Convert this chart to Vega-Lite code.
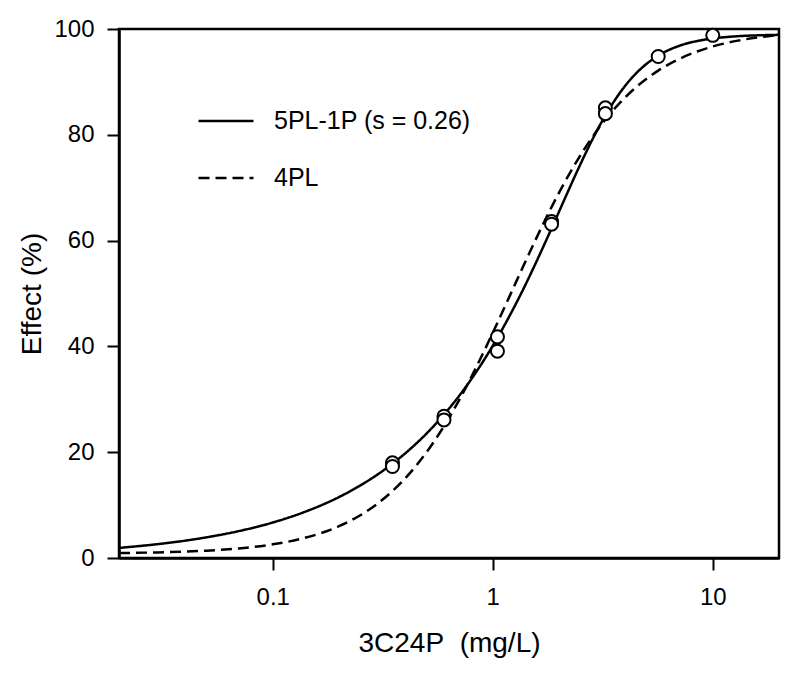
{
  "$schema": "https://vega.github.io/schema/vega-lite/v6.json",
  "autosize": {"type": "none"},
  "width": 660,
  "height": 529,
  "padding": {"left": 119, "top": 29, "right": 21, "bottom": 123},
  "background": "white",
  "datasets": {
    "curves": [
      {"model": "5PL-1P (s = 0.26)", "x": 0.02, "y": 1.91},
      {"model": "5PL-1P (s = 0.26)", "x": 0.03, "y": 2.62},
      {"model": "5PL-1P (s = 0.26)", "x": 0.04, "y": 3.28},
      {"model": "5PL-1P (s = 0.26)", "x": 0.05, "y": 3.91},
      {"model": "5PL-1P (s = 0.26)", "x": 0.07, "y": 5.08},
      {"model": "5PL-1P (s = 0.26)", "x": 0.1, "y": 6.71},
      {"model": "5PL-1P (s = 0.26)", "x": 0.14, "y": 8.73},
      {"model": "5PL-1P (s = 0.26)", "x": 0.2, "y": 11.52},
      {"model": "5PL-1P (s = 0.26)", "x": 0.25, "y": 13.72},
      {"model": "5PL-1P (s = 0.26)", "x": 0.3, "y": 15.81},
      {"model": "5PL-1P (s = 0.26)", "x": 0.35, "y": 17.83},
      {"model": "5PL-1P (s = 0.26)", "x": 0.42, "y": 20.55},
      {"model": "5PL-1P (s = 0.26)", "x": 0.5, "y": 23.53},
      {"model": "5PL-1P (s = 0.26)", "x": 0.6, "y": 27.12},
      {"model": "5PL-1P (s = 0.26)", "x": 0.7, "y": 30.54},
      {"model": "5PL-1P (s = 0.26)", "x": 0.85, "y": 35.46},
      {"model": "5PL-1P (s = 0.26)", "x": 1.0, "y": 40.13},
      {"model": "5PL-1P (s = 0.26)", "x": 1.2, "y": 45.99},
      {"model": "5PL-1P (s = 0.26)", "x": 1.4, "y": 51.45},
      {"model": "5PL-1P (s = 0.26)", "x": 1.6, "y": 56.53},
      {"model": "5PL-1P (s = 0.26)", "x": 1.85, "y": 62.3},
      {"model": "5PL-1P (s = 0.26)", "x": 2.1, "y": 67.45},
      {"model": "5PL-1P (s = 0.26)", "x": 2.4, "y": 72.81},
      {"model": "5PL-1P (s = 0.26)", "x": 2.8, "y": 78.65},
      {"model": "5PL-1P (s = 0.26)", "x": 3.25, "y": 83.66},
      {"model": "5PL-1P (s = 0.26)", "x": 3.8, "y": 88.05},
      {"model": "5PL-1P (s = 0.26)", "x": 4.5, "y": 91.69},
      {"model": "5PL-1P (s = 0.26)", "x": 5.65, "y": 94.97},
      {"model": "5PL-1P (s = 0.26)", "x": 7, "y": 96.78},
      {"model": "5PL-1P (s = 0.26)", "x": 8.5, "y": 97.73},
      {"model": "5PL-1P (s = 0.26)", "x": 10, "y": 98.21},
      {"model": "5PL-1P (s = 0.26)", "x": 13, "y": 98.64},
      {"model": "5PL-1P (s = 0.26)", "x": 16, "y": 98.8},
      {"model": "5PL-1P (s = 0.26)", "x": 20, "y": 98.9},
      {"model": "4PL", "x": 0.02, "y": 0.94},
      {"model": "4PL", "x": 0.03, "y": 1.06},
      {"model": "4PL", "x": 0.04, "y": 1.22},
      {"model": "4PL", "x": 0.05, "y": 1.39},
      {"model": "4PL", "x": 0.07, "y": 1.81},
      {"model": "4PL", "x": 0.1, "y": 2.58},
      {"model": "4PL", "x": 0.14, "y": 3.81},
      {"model": "4PL", "x": 0.2, "y": 6.01},
      {"model": "4PL", "x": 0.25, "y": 8.08},
      {"model": "4PL", "x": 0.3, "y": 10.31},
      {"model": "4PL", "x": 0.35, "y": 12.65},
      {"model": "4PL", "x": 0.42, "y": 16.04},
      {"model": "4PL", "x": 0.5, "y": 20.0},
      {"model": "4PL", "x": 0.6, "y": 24.92},
      {"model": "4PL", "x": 0.7, "y": 29.7},
      {"model": "4PL", "x": 0.85, "y": 36.45},
      {"model": "4PL", "x": 1.0, "y": 42.58},
      {"model": "4PL", "x": 1.2, "y": 49.74},
      {"model": "4PL", "x": 1.4, "y": 55.84},
      {"model": "4PL", "x": 1.6, "y": 60.99},
      {"model": "4PL", "x": 1.85, "y": 66.34},
      {"model": "4PL", "x": 2.1, "y": 70.69},
      {"model": "4PL", "x": 2.4, "y": 74.9},
      {"model": "4PL", "x": 2.8, "y": 79.24},
      {"model": "4PL", "x": 3.25, "y": 82.89},
      {"model": "4PL", "x": 3.8, "y": 86.14},
      {"model": "4PL", "x": 4.5, "y": 89.06},
      {"model": "4PL", "x": 5.65, "y": 92.14},
      {"model": "4PL", "x": 7, "y": 94.29},
      {"model": "4PL", "x": 8.5, "y": 95.75},
      {"model": "4PL", "x": 10, "y": 96.69},
      {"model": "4PL", "x": 13, "y": 97.8},
      {"model": "4PL", "x": 16, "y": 98.41},
      {"model": "4PL", "x": 20, "y": 98.88}
    ],
    "points": [
      {"x": 0.35, "y": 18.0},
      {"x": 0.35, "y": 17.3},
      {"x": 0.6, "y": 26.8},
      {"x": 0.6, "y": 26.1},
      {"x": 1.05, "y": 41.8},
      {"x": 1.05, "y": 39.1},
      {"x": 1.85, "y": 63.6},
      {"x": 1.85, "y": 63.1},
      {"x": 3.25, "y": 85.1},
      {"x": 3.25, "y": 84.0},
      {"x": 5.65, "y": 94.8},
      {"x": 10, "y": 98.8}
    ]
  },
  "encoding": {
    "x": {
      "field": "x",
      "type": "quantitative",
      "scale": {"type": "log", "domain": [0.02, 20], "nice": false},
      "axis": {
        "title": "3C24P\u00a0\u00a0(mg/L)",
        "values": [0.1, 1, 10],
        "format": "~g",
        "labelPadding": 15,
        "titlePadding": 20
      }
    },
    "y": {
      "field": "y",
      "type": "quantitative",
      "scale": {"domain": [0, 100], "nice": false},
      "axis": {
        "title": "Effect (%)",
        "values": [0, 20, 40, 60, 80, 100],
        "labelPadding": 13,
        "titlePadding": 7
      }
    }
  },
  "layer": [
    {
      "data": {"name": "curves"},
      "mark": {"type": "line", "color": "black", "strokeWidth": 2.5, "interpolate": "monotone", "clip": true},
      "encoding": {
        "strokeDash": {
          "field": "model",
          "type": "nominal",
          "scale": {"domain": ["5PL-1P (s = 0.26)", "4PL"], "range": [[1, 0], [11, 6]]},
          "legend": {
            "title": null,
            "orient": "none",
            "legendX": 78,
            "legendY": 63,
            "padding": 0,
            "symbolType": "stroke",
            "symbolSize": 3025,
            "symbolStrokeWidth": 2.5,
            "symbolStrokeColor": "black",
            "labelFontSize": 25,
            "labelColor": "black",
            "labelOffset": 19,
            "rowPadding": 15,
            "labelLimit": 400
          }
        }
      }
    },
    {
      "data": {"name": "points"},
      "mark": {"type": "point", "shape": "circle", "size": 170, "fill": "white", "stroke": "black", "strokeWidth": 2, "opacity": 1, "filled": false}
    }
  ],
  "config": {
    "font": "Liberation Sans",
    "view": {"stroke": "black", "strokeWidth": 2.5},
    "axis": {
      "grid": false,
      "domainColor": "black",
      "domainWidth": 2.5,
      "tickColor": "black",
      "tickWidth": 2,
      "tickSize": 12,
      "labelFontSize": 24,
      "labelColor": "black",
      "titleFontSize": 28,
      "titleFontWeight": "normal",
      "titleColor": "black"
    }
  }
}
